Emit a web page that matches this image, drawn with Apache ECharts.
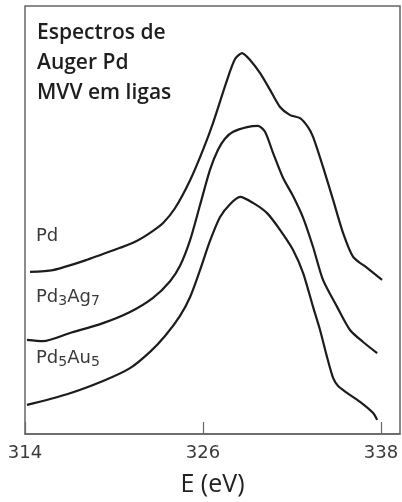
<!DOCTYPE html>
<html>
<head>
<meta charset="utf-8">
<script src="https://cdn.jsdelivr.net/npm/echarts@6/dist/echarts.min.js"></script>
<style>
  html, body { margin: 0; padding: 0; background: #fff; }
  #chart { width: 402px; height: 502px; }
</style>
</head>
<body>
<div id="chart"></div>
<script>
// Energy ticks (eV)
const energyTicks = [314, 326, 338];

// Pd MVV Auger spectra: [E (eV), intensity (arb. units, vertically offset)]
const pd = [
  [314.34, 37.9], [315.89, 38.3], [318.18, 40.7], [320.41, 43.5], [321.42, 44.9],
  [322.43, 47.0], [323.31, 49.3], [324.12, 52.8], [325.13, 59.3], [326.00, 66.4],
  [326.68, 72.7], [327.62, 82.7], [328.16, 87.6], [328.63, 89.0], [329.17, 87.4],
  [329.85, 84.3], [330.52, 80.4], [331.19, 76.4], [331.87, 74.5], [332.54, 73.8],
  [333.08, 71.7], [333.42, 69.4], [334.09, 62.4], [334.77, 54.7], [335.44, 47.0],
  [336.12, 41.4], [337.06, 38.8], [338.07, 36.0]
];

const pd3ag7 = [
  [314.13, 22.0], [315.21, 21.7], [317.03, 23.6], [319.26, 25.9], [321.08, 28.5],
  [322.63, 31.8], [323.78, 35.7], [324.45, 39.3], [325.13, 45.3], [325.80, 53.5],
  [326.47, 61.7], [327.01, 66.4], [327.48, 69.0], [328.03, 70.6], [328.97, 71.7],
  [329.71, 72.0], [330.18, 70.6], [330.72, 65.7], [331.40, 59.8], [332.07, 55.6],
  [332.75, 50.5], [333.42, 43.7], [334.09, 36.0], [335.04, 29.7], [335.91, 24.3],
  [336.79, 21.5], [337.74, 18.9]
];

const pd5au5 = [
  [314.13, 6.8], [316.83, 9.3], [319.26, 12.4], [321.08, 15.4], [322.43, 19.2],
  [323.44, 22.9], [324.45, 27.6], [325.13, 32.0], [325.80, 38.3], [326.47, 45.1],
  [327.15, 50.7], [327.82, 53.7], [328.50, 55.4], [329.37, 54.0], [330.32, 51.6],
  [331.19, 47.7], [332.07, 43.0], [332.75, 37.6], [333.42, 29.7], [333.89, 24.3],
  [334.36, 18.0], [334.77, 13.1], [335.11, 11.2], [335.71, 9.6], [336.59, 7.5],
  [337.47, 4.9], [337.74, 3.3]
];

const titleLines = ['Espectros de', 'Auger Pd', 'MVV em ligas'];

const chart = echarts.init(document.getElementById('chart'));

function spectrum(name, data) {
  return {
    name: name,
    type: 'line',
    data: data,
    smooth: 0.25,
    showSymbol: false,
    lineStyle: { color: '#1c1c1c', width: 2.2 },
    silent: true
  };
}

const subRich = {
  n: { fontFamily: 'DejaVu Sans', fontSize: 18, fill: '#3a3a3a' },
  s: { fontFamily: 'DejaVu Sans', fontSize: 14, fill: '#3a3a3a', padding: [9, 0, 0, 0] }
};

chart.setOption({
  animation: false,
  backgroundColor: '#fff',
  grid: {
    left: 25, right: 2, top: 6, bottom: 68,
    show: true, borderColor: '#666', borderWidth: 1.5
  },
  xAxis: {
    type: 'value',
    min: 314,
    max: 339.28,
    interval: 12,
    name: 'E (eV)',
    nameLocation: 'middle',
    nameGap: 38,
    nameTextStyle: { fontFamily: 'Open Sans', fontSize: 25, fontWeight: 500, color: '#222' },
    axisLine: { show: true, lineStyle: { color: '#666', width: 1.5 } },
    axisTick: { show: true, inside: true, length: 12, customValues: energyTicks,
      lineStyle: { color: '#666', width: 1.2 } },
    axisLabel: { customValues: energyTicks, margin: 10,
      fontFamily: 'DejaVu Sans', fontSize: 18, color: '#3a3a3a' },
    splitLine: { show: false }
  },
  yAxis: {
    type: 'value',
    min: 0, max: 100,
    show: false
  },
  series: [
    spectrum('Pd', pd),
    spectrum('Pd3Ag7', pd3ag7),
    spectrum('Pd5Au5', pd5au5)
  ],
  graphic: [
    {
      type: 'text', left: 37, top: 18,
      style: {
        text: titleLines.join('\n'),
        fontFamily: 'Open Sans', fontSize: 21, fontWeight: 600,
        lineHeight: 30, fill: '#1e1e1e'
      }
    },
    { type: 'text', left: 36, top: 227,
      style: { text: '{n|Pd}', rich: subRich } },
    { type: 'text', left: 36, top: 288,
      style: { text: '{n|Pd}{s|3}{n|Ag}{s|7}', rich: subRich } },
    { type: 'text', left: 36, top: 349,
      style: { text: '{n|Pd}{s|5}{n|Au}{s|5}', rich: subRich } }
  ]
});
</script>
</body>
</html>
